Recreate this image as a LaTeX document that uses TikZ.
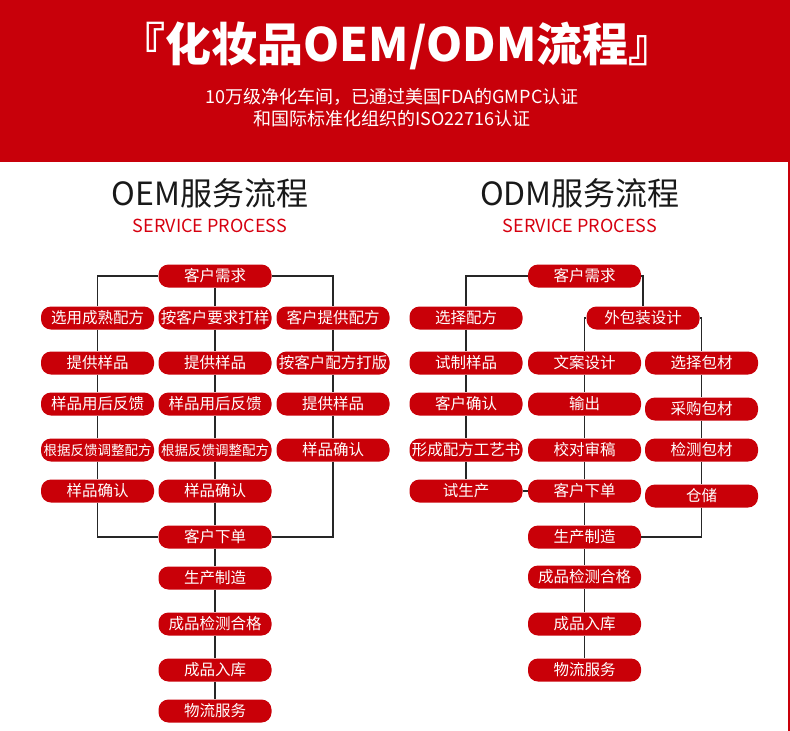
\documentclass[tikz,border=0pt]{standalone}
\usepackage{fontspec}
\setmainfont{Noto Sans CJK SC}
\usepackage{xcolor}
\definecolor{hdrred}{HTML}{C8000A}
\definecolor{boxred}{HTML}{C90008}
\definecolor{subred}{HTML}{D6000F}

\begin{document}
\begin{tikzpicture}[
  x=1pt, y=-1pt,
  stepnode/.style={fill=boxred, text=white, rounded corners=10pt,
                   minimum width=113pt, minimum height=23pt, inner sep=0pt,
                   font=\fontsize{15.5}{15.5}\selectfont},
  longnode/.style={stepnode, font=\fontsize{13.5}{13.5}\selectfont},
  link/.style={draw=black!85, line width=1.6pt},
  heading/.style={font=\fontsize{32}{32}\selectfont, text=black!90},
  subhead/.style={font=\fontsize{18}{18}\selectfont, text=subred}
]
\useasboundingbox (0,0) rectangle (790,731);

% header band
\fill[hdrred] (0,0) rectangle (790,162);
\draw[hdrred, line width=1.5pt] (789,162) -- (789,731);
\node[text=white, font=\bfseries\fontsize{46}{46}\selectfont] (title) at (397,46)
  {『化妆品OEM/ODM流程』};
\node[text=white, font=\fontsize{18}{18}\selectfont] (sub1) at (392,97)
  {10万级净化车间，已通过美国FDA的GMPC认证};
\node[text=white, font=\fontsize{18}{18}\selectfont] (sub2) at (392,119)
  {和国际标准化组织的ISO22716认证};

% OEM
\node[heading] (oemhead) at (210,193) {OEM服务流程};
\node[subhead] (oemsub) at (210,226) {SERVICE PROCESS};

\node[stepnode] (oReq) at (215,276) {客户需求};
\node[stepnode] (oA1) at (97.5,318) {选用成熟配方};
\node[stepnode] (oA2) at (97.5,363) {提供样品};
\node[stepnode] (oA3) at (97.5,404) {样品用后反馈};
\node[longnode] (oA4) at (97.5,450) {根据反馈调整配方};
\node[stepnode] (oA5) at (97.5,491) {样品确认};
\node[stepnode] (oB1) at (215,318) {按客户要求打样};
\node[stepnode] (oB2) at (215,363) {提供样品};
\node[stepnode] (oB3) at (215,404) {样品用后反馈};
\node[longnode] (oB4) at (215,450) {根据反馈调整配方};
\node[stepnode] (oB5) at (215,491) {样品确认};
\node[stepnode] (oC1) at (333,318) {客户提供配方};
\node[stepnode] (oC2) at (333,363) {按客户配方打版};
\node[stepnode] (oC3) at (333,404) {提供样品};
\node[stepnode] (oC4) at (333,450) {样品确认};
\node[stepnode] (oOrd) at (215,537) {客户下单};
\node[stepnode] (oMake) at (215,578) {生产制造};
\node[stepnode] (oTest) at (215,624) {成品检测合格};
\node[stepnode] (oStore) at (215,670) {成品入库};
\node[stepnode] (oShip) at (215,711) {物流服务};

\draw[link] (oReq.west) -| (oA1.north);
\draw[link] (oA1) -- (oA2) -- (oA3) -- (oA4) -- (oA5);
\draw[link] (oA5.south) |- (oOrd.west);
\draw[link] (oReq) -- (oB1) -- (oB2) -- (oB3) -- (oB4) -- (oB5) -- (oOrd);
\draw[link] (oReq.east) -| (oC1.north);
\draw[link] (oC1) -- (oC2) -- (oC3) -- (oC4);
\draw[link] (oC4.south) |- (oOrd.east);
\draw[link] (oOrd) -- (oMake) -- (oTest) -- (oStore) -- (oShip);

% ODM
\node[heading] (odmhead) at (580,193) {ODM服务流程};
\node[subhead] (odmsub) at (580,226) {SERVICE PROCESS};

\node[stepnode] (dReq) at (584.5,276) {客户需求};
\node[stepnode] (dA1) at (466,318) {选择配方};
\node[stepnode] (dA2) at (466,363) {试制样品};
\node[stepnode] (dA3) at (466,404) {客户确认};
\node[stepnode] (dA4) at (466,450) {形成配方工艺书};
\node[stepnode] (dA5) at (466,491) {试生产};
\node[stepnode] (dPkg) at (643,318) {外包装设计};
\node[stepnode] (dB1) at (584.5,363) {文案设计};
\node[stepnode] (dB2) at (584.5,404) {输出};
\node[stepnode] (dB3) at (584.5,450) {校对审稿};
\node[stepnode] (dOrd) at (584.5,491) {客户下单};
\node[stepnode] (dMake) at (584.5,537) {生产制造};
\node[stepnode] (dTest) at (584.5,577) {成品检测合格};
\node[stepnode] (dStore) at (584.5,624) {成品入库};
\node[stepnode] (dShip) at (584.5,670) {物流服务};
\node[stepnode] (dC1) at (701.5,363) {选择包材};
\node[stepnode] (dC2) at (701.5,409) {采购包材};
\node[stepnode] (dC3) at (701.5,450) {检测包材};
\node[stepnode] (dC4) at (701.5,496) {仓储};

\draw[link] (dReq.west) -| (dA1.north);
\draw[link] (dA1) -- (dA2) -- (dA3) -- (dA4) -- (dA5);
\draw[link] (dA5) -- (dOrd);
\draw[link] (dReq.east) -| (dPkg.north);
\draw[link] (dPkg.west) -| (dB1.north);
\draw[link] (dPkg.east) -| (dC1.north);
\draw[link] (dB1) -- (dB2) -- (dB3) -- (dOrd) -- (dMake) -- (dTest) -- (dStore) -- (dShip);
\draw[link] (dC1) -- (dC2) -- (dC3) -- (dC4);
\draw[link] (dC4.south) |- (dMake.east);

\end{tikzpicture}
\end{document}
